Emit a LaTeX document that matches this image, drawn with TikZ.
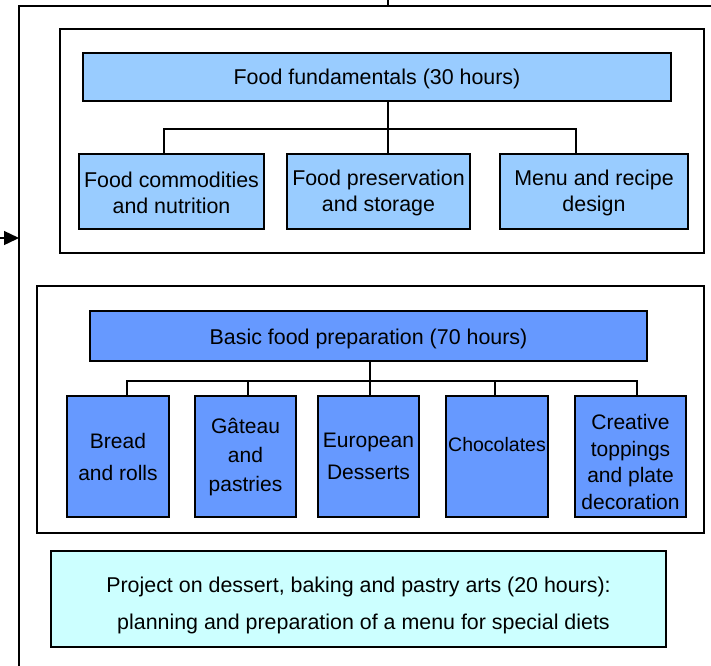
\documentclass[tikz,border=0pt]{standalone}
\usepackage{fontspec}
\setmainfont{Liberation Sans}
\usetikzlibrary{arrows.meta}
\definecolor{lightb}{HTML}{99CCFF}
\definecolor{midb}{HTML}{6699FF}
\definecolor{cyanb}{HTML}{CCFFFF}
\tikzset{
  box/.style={draw=black, line width=1.4pt, inner sep=1pt, align=center, anchor=center},
  lbox/.style={box, fill=lightb},
  mbox/.style={box, fill=midb},
  pbox/.style={box, fill=cyanb},
  txt/.style={align=center, inner sep=0pt},
  frame/.style={draw=black, line width=1.6pt},
  conn/.style={draw=black, line width=1.4pt},
}
\begin{document}
\begin{tikzpicture}[x=1pt,y=-1pt]
\useasboundingbox (0,0) rectangle (711,665);
% outer frame
\coordinate (otop) at (388,0);
\coordinate (ojoin) at (388,6);
\coordinate (obl) at (19,668);
\coordinate (otl) at (19,6);
\coordinate (otr) at (714,6);
\draw[frame] (obl) -- (otl) -- (otr);
\draw[conn] (otop) -- (ojoin);
\coordinate (ain) at (-2,238);
\coordinate (aend) at (19,238);
\draw[conn, -{Triangle[length=15pt,width=14pt]}] (ain) -- (aend);

% frame 1
\draw[frame] (60,29) rectangle (704,253);
\node[lbox, minimum width=588pt, minimum height=48pt] (ff) at (377,77) {};
\node[txt, font=\fontsize{21.4}{26}\selectfont] (fft) at (377,79) {Food fundamentals (30 hours)};
\node[lbox, minimum width=185pt, minimum height=75pt] (fc) at (171.5,191.5) {};
\node[lbox, minimum width=183pt, minimum height=75pt] (fp) at (378.5,191.5) {};
\node[lbox, minimum width=188pt, minimum height=75pt] (mr) at (594,191.5) {};
\node[txt, font=\fontsize{21.4}{26}\selectfont] (fct) at (171.5,192.5) {Food commodities\\and nutrition};
\node[txt, font=\fontsize{21.4}{26}\selectfont] (fpt) at (378.5,192.5) {Food preservation\\and storage};
\node[txt, font=\fontsize{21.4}{26}\selectfont] (mrt) at (594,192.5) {Menu and recipe\\design};
\coordinate (b1l) at (164,129);
\coordinate (b1m) at (388,129);
\coordinate (b1r) at (576,129);
\draw[conn] (ff.south -| b1m) -- (fp.north -| b1m);
\draw[conn] (fc.north -| b1l) -- (b1l) -- (b1r) -- (mr.north -| b1r);

% frame 2
\draw[frame] (37,286) rectangle (704,533);
\node[mbox, minimum width=557pt, minimum height=50pt] (bf) at (368.5,336) {};
\node[txt, font=\fontsize{21.4}{26}\selectfont] (bft) at (368.5,338.5) {Basic food preparation (70 hours)};
\node[mbox, minimum width=102pt, minimum height=121pt] (br) at (118,456.5) {};
\node[mbox, minimum width=101pt, minimum height=121pt] (ga) at (245.5,456.5) {};
\node[mbox, minimum width=101pt, minimum height=121pt] (eu) at (368.5,456.5) {};
\node[mbox, minimum width=102pt, minimum height=121pt] (ch) at (497,456.5) {};
\node[mbox, minimum width=111pt, minimum height=121pt] (cr) at (630.5,456.5) {};
\node[txt, font=\fontsize{21}{32}\selectfont] (brt) at (118,456.5) {Bread\\and rolls};
\node[txt, font=\fontsize{21}{29}\selectfont] (gat) at (245.5,457) {Gâteau\\and\\pastries};
\node[txt, font=\fontsize{21}{32}\selectfont] (eut) at (368.5,456.5) {European\\Desserts};
\node[txt, font=\fontsize{19.5}{24}\selectfont] (cht) at (497,445) {Chocolates};
\node[txt, font=\fontsize{21}{26.7}\selectfont] (crt) at (630.5,462) {Creative\\toppings\\and plate\\decoration};
\coordinate (b2l) at (127,381);
\coordinate (b2m) at (370,381);
\coordinate (b2r) at (637,381);
\coordinate (d2) at (248,381);
\coordinate (d4) at (495,381);
\draw[conn] (bf.south -| b2m) -- (eu.north -| b2m);
\draw[conn] (br.north -| b2l) -- (b2l) -- (b2r) -- (cr.north -| b2r);
\draw[conn] (d2) -- (ga.north -| d2);
\draw[conn] (d4) -- (ch.north -| d4);

% project
\node[pbox, minimum width=615pt, minimum height=96pt] (pr) at (358.5,599) {};
\node[txt, font=\fontsize{21.4}{37}\selectfont] (prt) at (358.5,605.5) {Project on dessert, baking and pastry arts (20 hours):\\\hspace*{10pt}planning and preparation of a menu for special diets};
\end{tikzpicture}
\end{document}
